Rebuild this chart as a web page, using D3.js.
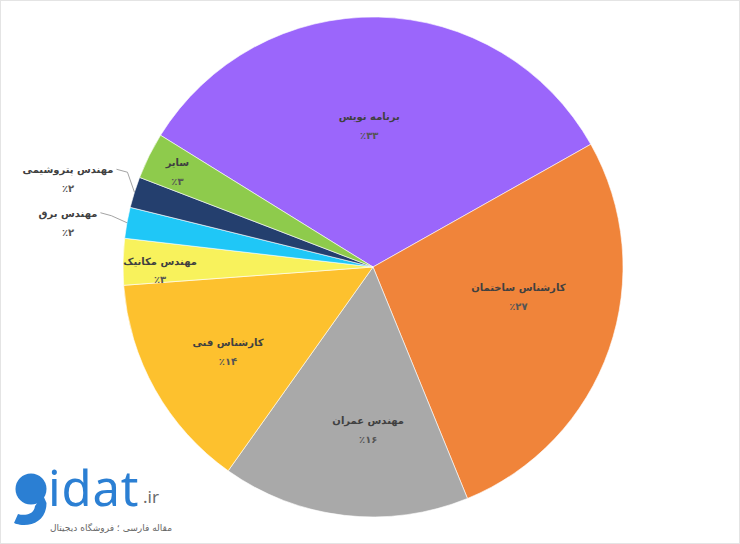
<!DOCTYPE html>
<html><head><meta charset="utf-8">
<script src="https://cdn.jsdelivr.net/npm/d3@7"></script>
<style>html,body{margin:0;padding:0;background:#fff}svg{display:block}</style>
</head><body>
<svg id="c" width="740" height="544"></svg>
<script>
const categories = ["برنامه نویس","کارشناس ساختمان","مهندس عمران","کارشناس فنی","مهندس مکانیک","مهندس برق","مهندس پتروشیمی","سایر"];
const values = [33, 27, 16, 14, 3, 2, 2, 3];
const colors = ["#9b66fb","#f0843a","#a9a9a9","#fdc12e","#f8f25c","#1fc7f7","#243f6e","#8ecb4c"];
// layout nudges for the data labels (pixels), in slice order
const labelNudge = [[-7,13],[-1,-22],[13,8],[-10,8],[2,7],[0,13],[0,13],[-3,0]];

const W = 740, H = 544, cx = 373, cy = 267, R = 250;
const svg = d3.select("#c");
svg.append("rect").attr("x",0.5).attr("y",0.5).attr("width",W-1).attr("height",H-1)
  .attr("fill","#fff").attr("stroke","#e4e4e4");

const toFa = n => String(n).replace(/\d/g, d => "۰۱۲۳۴۵۶۷۸۹"[d]);
const data = categories.map((c,i)=>({cat:c, value:values[i], color:colors[i]}));
const start = -58.2*Math.PI/180;
const pie = d3.pie().value(d=>d.value).sort(null).startAngle(start).endAngle(start+2*Math.PI);
const arcs = pie(data);
const arc = d3.arc().innerRadius(0).outerRadius(R);
const g = svg.append("g").attr("transform",`translate(${cx},${cy})`);
g.selectAll("path").data(arcs).join("path")
  .attr("d",arc).attr("fill",d=>d.data.color).attr("stroke","#fff").attr("stroke-width",0.6);

const font = "'DejaVu Sans', sans-serif";
const pt = (a,r)=>[r*Math.sin(a), -r*Math.cos(a)];
let outside = 0;
const lines = g.append("g");
arcs.forEach((d,i)=>{
  const mid = (d.startAngle+d.endAngle)/2;
  let lx, ly, edge = null;
  if (d.data.value >= 10) {
    [lx,ly] = pt(mid, R*0.62);
  } else if (d.data.value >= 3) {
    [lx,ly] = pt(mid, R*0.86);
  } else {
    edge = pt(mid, R);
    lx = -R*1.22; ly = edge[1] - 14 - 13*outside;
    outside++;
  }
  lx += labelNudge[i][0]; ly += labelNudge[i][1];
  const t = g.append("text").attr("text-anchor","middle")
    .attr("font-family",font).attr("font-weight","bold").attr("font-size",10).attr("fill","#404040");
  const t1 = t.append("tspan").attr("x",lx).attr("y",ly-5).text(d.data.cat);
  t.append("tspan").attr("x",lx).attr("y",ly+14).attr("fill","#555").text("٪"+toFa(d.data.value));
  if (edge) {
    const tw = t1.node().getComputedTextLength();
    const x0 = lx + tw/2 + 3, y0 = ly - 9;
    lines.append("polyline")
      .attr("points",[[x0,y0],[x0+11,y0+3],[edge[0],edge[1]]].map(p=>p.join(",")).join(" "))
      .attr("fill","none").attr("stroke","#8c8c8c").attr("stroke-width",0.8);
  }
});

// logo
const logo = svg.append("g");
logo.append("circle").attr("cx",31).attr("cy",489).attr("r",15.5).attr("fill","#2b7fd3");
logo.append("path").attr("d","M43,495 L46.5,503 C46.5,518 36,525 24,525 C18,525 14,523 14,523 L18,514 C24,516 34,515 35,506 Z").attr("fill","#2b7fd3");
logo.append("text").attr("x",48).attr("y",506).attr("font-family","'Noto Sans', sans-serif")
  .attr("font-size",49).attr("fill","#2b7fd3").attr("letter-spacing",0.8).text("idat");
logo.append("text").attr("x",143).attr("y",503).attr("font-family","'Noto Sans', sans-serif")
  .attr("font-size",17).attr("fill","#6b6b6b").text(".ir");
logo.append("text").attr("x",172).attr("y",531).attr("text-anchor","end")
  .attr("font-family",font).attr("font-size",9).attr("fill","#666")
  .attr("textLength",122).attr("lengthAdjust","spacingAndGlyphs").text("مقاله فارسی ؛ فروشگاه دیجیتال");
</script>
</body></html>
